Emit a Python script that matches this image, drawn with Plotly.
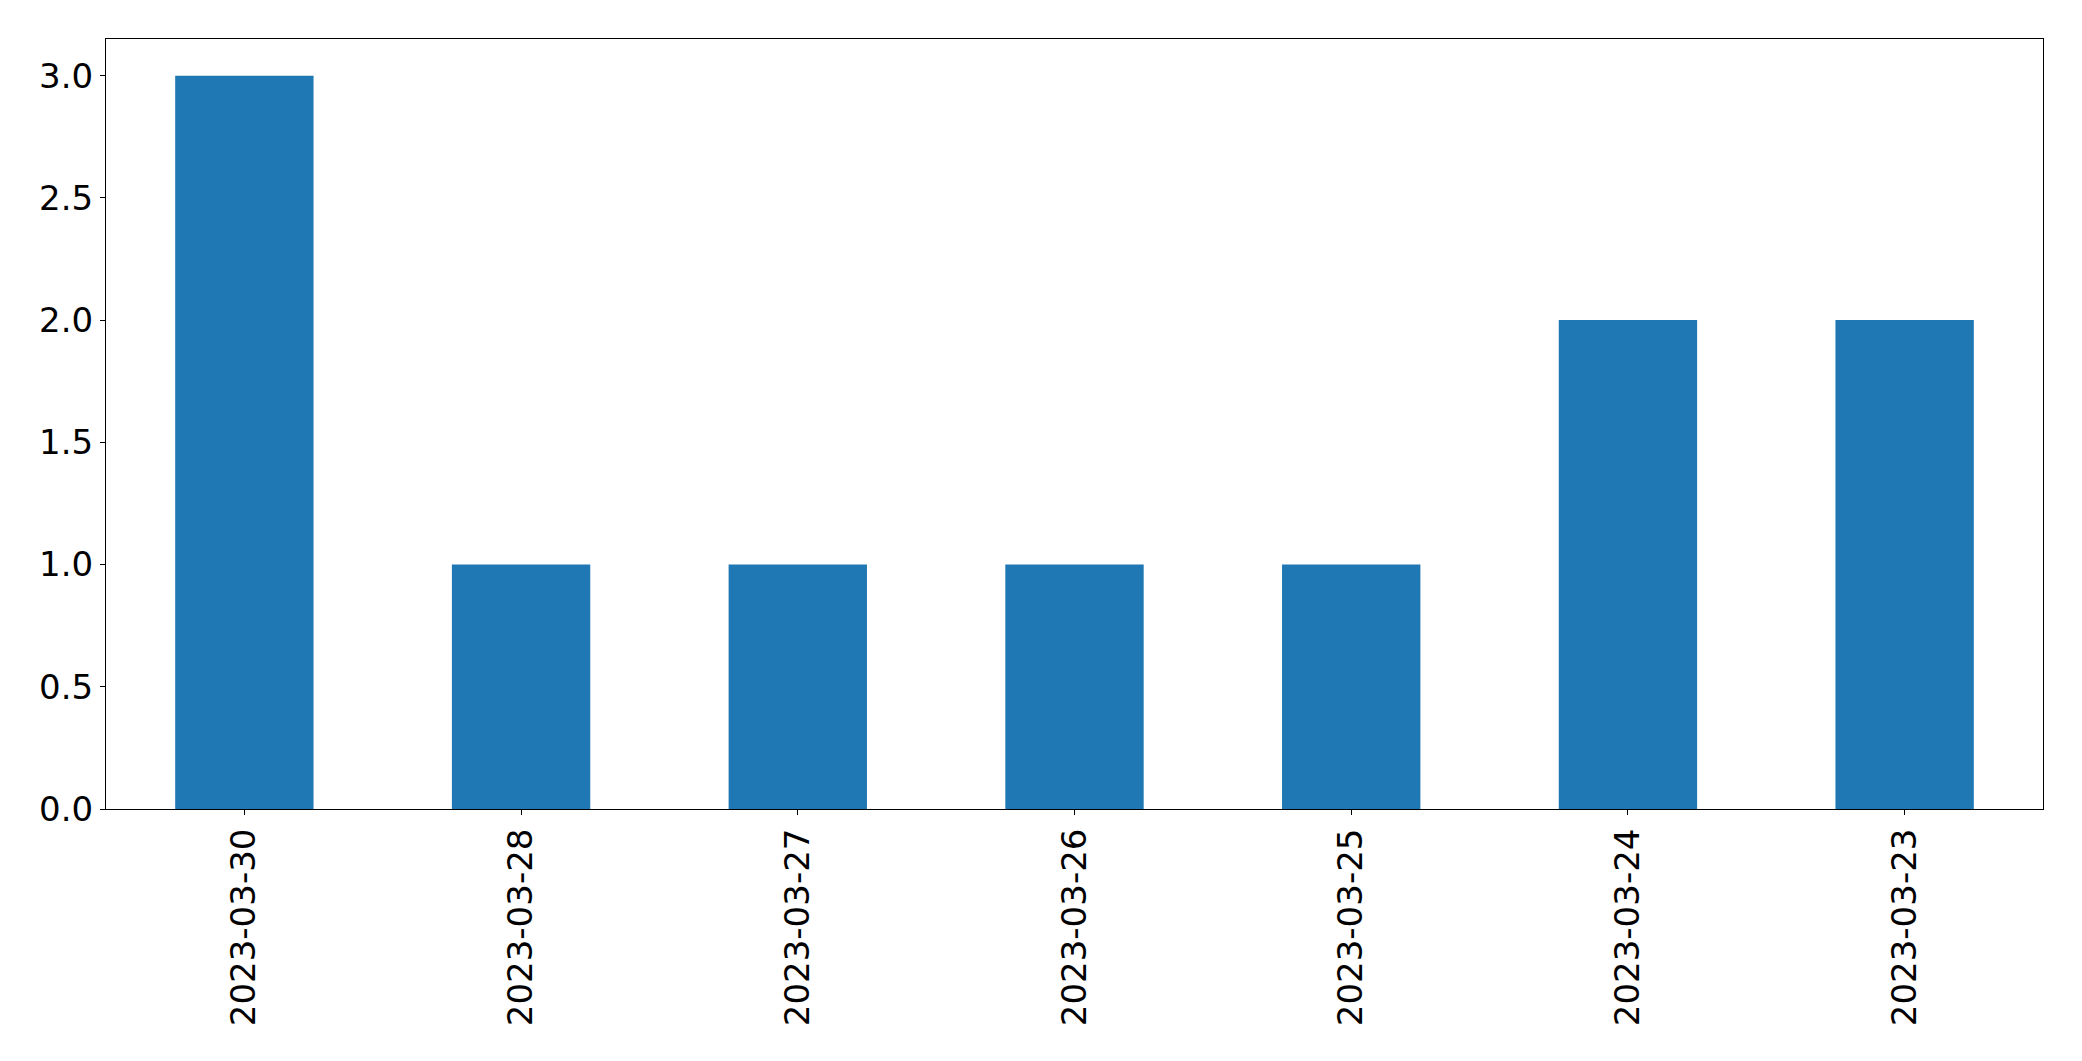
import plotly.graph_objects as go

dates = ["2023-03-30", "2023-03-28", "2023-03-27", "2023-03-26", "2023-03-25", "2023-03-24", "2023-03-23"]
counts = [3, 1, 1, 1, 1, 2, 2]
y_ticks = [0.0, 0.5, 1.0, 1.5, 2.0, 2.5, 3.0]
y_tick_labels = ["0.0", "0.5", "1.0", "1.5", "2.0", "2.5", "3.0"]

fig = go.Figure(go.Bar(x=dates, y=counts, marker=dict(color="#1f77b4", line=dict(width=0)), width=0.5))

# page body has an 8px default margin, so compensate
fig.update_layout(
    width=2074, height=1053,
    margin=dict(l=98, r=39, t=31, b=252),
    paper_bgcolor="white", plot_bgcolor="white",
    font=dict(family="DejaVu Sans", size=34, color="black"),
    showlegend=False,
)
fig.update_xaxes(
    type="category", range=[-0.5, 6.5], tickangle=-90,
    showline=True, linecolor="black", linewidth=1, mirror=True,
    ticks="outside", ticklen=5, tickwidth=1, tickcolor="black",
    showgrid=False, zeroline=False, tickfont=dict(size=34),
)
fig.update_yaxes(
    range=[0, 3.15], tickvals=y_ticks, ticktext=y_tick_labels,
    showline=True, linecolor="black", linewidth=1, mirror=True,
    ticks="outside", ticklen=5, tickwidth=1, tickcolor="black",
    showgrid=False, zeroline=False, tickfont=dict(size=34),
)
fig.write_html("out.html")
